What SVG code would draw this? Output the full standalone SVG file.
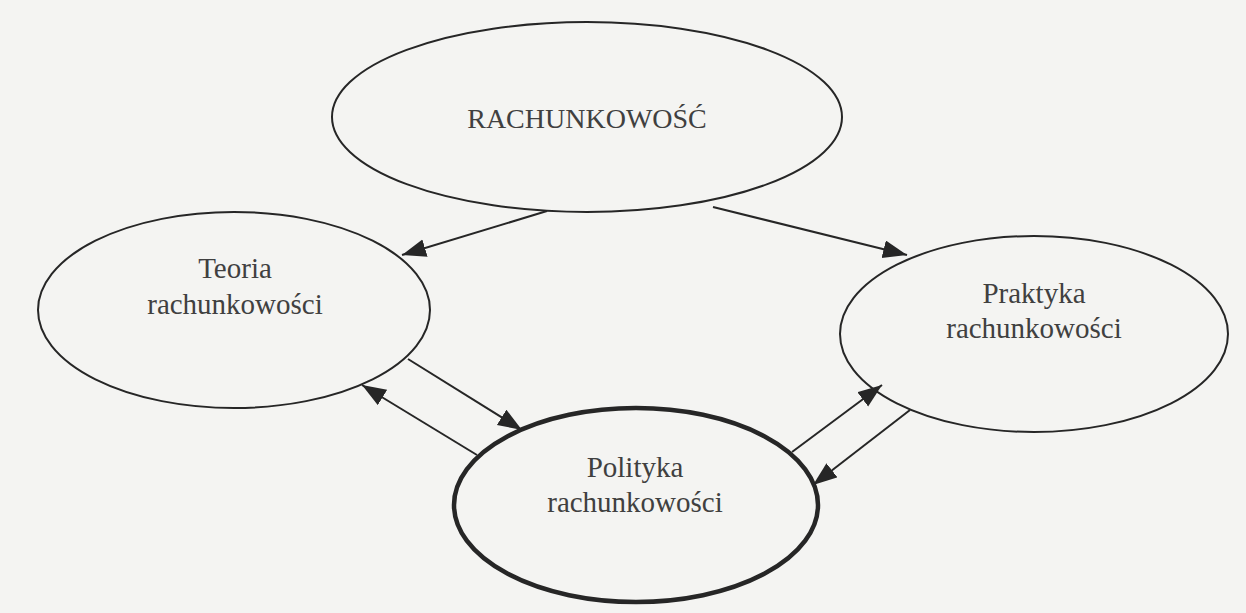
<svg xmlns="http://www.w3.org/2000/svg" width="1246" height="613" viewBox="0 0 1246 613">
  <style>
    .node { fill: none; stroke: #262626; stroke-width: 2; }
    .bold { stroke-width: 4.5; }
    .label { font-family: "Liberation Serif", "Times New Roman", serif; font-size: 29px; fill: #404040; text-anchor: middle; }
    .conn { stroke: #262626; stroke-width: 2; fill: none; marker-end: url(#arrow); }
  </style>
  <defs>
    <marker id="arrow" markerUnits="userSpaceOnUse" markerWidth="26" markerHeight="20" refX="24" refY="9" orient="auto">
      <path d="M0,0 L24,9 L0,18 Z" fill="#262626"/>
    </marker>
  </defs>
  <rect x="0" y="0" width="1246" height="613" fill="#f4f4f2"/>

  <g id="node-rachunkowosc">
    <ellipse class="node" cx="587" cy="117" rx="255" ry="95"/>
    <text class="label" x="587" y="128" style="font-size:28px">RACHUNKOWOŚĆ</text>
  </g>

  <g id="node-teoria">
    <ellipse class="node" cx="234" cy="310" rx="196" ry="98"/>
    <text class="label" x="235" y="278">Teoria</text>
    <text class="label" x="235" y="314">rachunkowości</text>
  </g>

  <g id="node-praktyka">
    <ellipse class="node" cx="1034" cy="334" rx="194" ry="98"/>
    <text class="label" x="1034" y="303">Praktyka</text>
    <text class="label" x="1034" y="338">rachunkowości</text>
  </g>

  <g id="node-polityka">
    <ellipse class="node bold" cx="636" cy="505" rx="182" ry="97"/>
    <text class="label" x="635" y="477">Polityka</text>
    <text class="label" x="635" y="512">rachunkowości</text>
  </g>

  <g id="connectors">
    <line class="conn" x1="547" y1="211" x2="402" y2="255"/>
    <line class="conn" x1="713" y1="207" x2="907" y2="255"/>
    <line class="conn" x1="408" y1="359" x2="522" y2="430"/>
    <line class="conn" x1="477" y1="455" x2="362" y2="385"/>
    <line class="conn" x1="792" y1="452" x2="882" y2="385"/>
    <line class="conn" x1="910" y1="410" x2="813" y2="485"/>
  </g>
</svg>
